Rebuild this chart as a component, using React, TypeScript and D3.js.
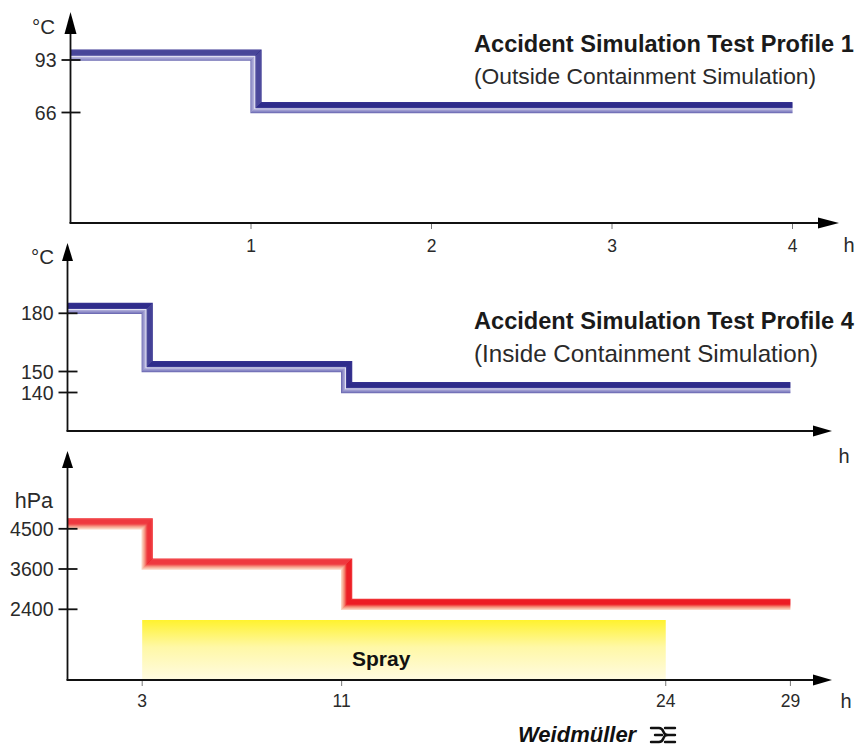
import React from "react";
import * as d3 from "d3";

// ---------- data ----------
const TOP_STEP_HOURS = [0, 1];
const TOP_STEP_TEMPS = [93, 66];
const TOP_END_HOUR = 4;
const TOP_Y_TICKS = [93, 66];
const TOP_X_TICKS = [1, 2, 3, 4];

const MID_STEP_HOURS = [0, 3, 11];
const MID_STEP_TEMPS = [180, 150, 140];
const MID_END_HOUR = 29;
const MID_Y_TICKS = [180, 150, 140];

const BOT_STEP_HOURS = [0, 3, 11];
const BOT_STEP_PRESS = [4500, 3600, 2400];
const BOT_END_HOUR = 29;
const BOT_Y_TICKS = [4500, 3600, 2400];
const BOT_X_TICKS = [3, 11, 24, 29];

const SPRAY_HOURS = [3, 24];
const SPRAY_LABEL = "Spray";

const TITLE_1 = "Accident Simulation Test Profile 1";
const SUBTITLE_1 = "(Outside Containment Simulation)";
const TITLE_4 = "Accident Simulation Test Profile 4";
const SUBTITLE_4 = "(Inside Containment Simulation)";
const UNIT_C = "°C";
const UNIT_HPA = "hPa";
const UNIT_H = "h";
const BRAND = "Weidmüller";

// band layer colours: index 0 = lower/left edge, last = upper/right edge
const BLUE_LAYERS = ["#6f6db4", "#8583c3", "#9896cd", "#aaa8d7", "#e2e2f2", "#3f3c96", "#2f2c8b", "#2f2c8b", "#2f2c8b", "#2f2c8b", "#34318f"];
const RED_LAYERS = ["#fbd3c2", "#f9b9a3", "#f69c86", "#f37c6a", "#f0514a", "#ee2a2e", "#ed1c24", "#ed1c24", "#ed1c24", "#ed1c24", "#ef2f33"];

const FONT = "Liberation Sans, Arial, Helvetica, sans-serif";
const TXT = "#2a2a2a";

// ---------- helpers ----------
function bandPath(
  x: (t: number) => number,
  y: (v: number) => number,
  hours: number[],
  vals: number[],
  end: number,
  d: number
) {
  const p = d3.path();
  p.moveTo(x(hours[0]), y(vals[0]) - d);
  for (let i = 1; i < hours.length; i++) {
    const xi = x(hours[i]) + d;
    p.lineTo(xi, y(vals[i - 1]) - d);
    p.lineTo(xi, y(vals[i]) - d);
  }
  p.lineTo(x(end), y(vals[vals.length - 1]) - d);
  return p.toString();
}

function Band({ x, y, hours, vals, end, colors }: any) {
  return (
    <g fill="none">
      {colors.map((c: string, d: number) => (
        <path key={d} d={bandPath(x, y, hours, vals, end, d)} stroke={c} strokeWidth={1.25} strokeLinejoin="miter" />
      ))}
    </g>
  );
}

function Axes({ ox, oy, yTip, xTip, yHead, xHead }: any) {
  return (
    <g>
      <line x1={ox} y1={oy} x2={ox} y2={yTip + yHead[0]} stroke="#111" strokeWidth={1.8} />
      <path d={`M${ox},${yTip} L${ox - yHead[1]},${yTip + yHead[0]} L${ox + yHead[1]},${yTip + yHead[0]} Z`} fill="#000" />
      <line x1={ox - 1} y1={oy} x2={xTip - xHead[0]} y2={oy} stroke="#111" strokeWidth={1.8} />
      <path d={`M${xTip},${oy} L${xTip - xHead[0]},${oy - xHead[1]} L${xTip - xHead[0]},${oy + xHead[1]} Z`} fill="#000" />
    </g>
  );
}

function YTicks({ ox, y, ticks }: any) {
  return (
    <g>
      {ticks.map((t: number) => (
        <g key={t}>
          <line x1={ox - 9} x2={ox + 10} y1={y(t)} y2={y(t)} stroke="#111" strokeWidth={1.8} />
          <text x={ox - 14} y={y(t)} dy="0.36em" textAnchor="end" fontSize={19.5} fill={TXT} fontFamily={FONT}>
            {String(t)}
          </text>
        </g>
      ))}
    </g>
  );
}

function XTicks({ oy, x, ticks, labelY }: any) {
  return (
    <g>
      {ticks.map((t: number) => (
        <g key={t}>
          <line x1={x(t)} x2={x(t)} y1={oy + 1} y2={oy + 6} stroke="#777" strokeWidth={1} />
          <text x={x(t)} y={labelY} textAnchor="middle" fontSize={17.5} fill={TXT} fontFamily={FONT}>
            {String(t)}
          </text>
        </g>
      ))}
    </g>
  );
}

export default function App() {
  // ---- top chart ----
  const topOx = 70.5;
  const topOy = 223;
  const xTop = d3.scaleLinear().domain([0, TOP_END_HOUR]).range([topOx, 792.5]);
  const yTop = d3.scaleLinear().domain([66, 93]).range([112.5, 60]);

  // ---- middle & bottom (hours 0..29) ----
  const ox = 67.5;
  const xHours = d3.scaleLinear().domain([0, 29]).range([67.4, 790.4]);
  const midOy = 431;
  const yMid = d3.scaleLinear().domain([140, 150, 180]).range([392.5, 371.5, 313.3]);
  const botOy = 680;
  const yBot = d3.scaleLinear().domain([2400, 3600, 4500]).range([609.3, 569, 528.8]);

  const sprayX0 = xHours(SPRAY_HOURS[0]);
  const sprayX1 = xHours(SPRAY_HOURS[1]);

  return (
    <svg
      width={866}
      height={747}
      viewBox="0 0 866 747"
      fontFamily={FONT}
      style={{ position: "absolute", left: 0, top: 0, background: "#fff", fontFamily: FONT }}
    >
      <defs>
        <linearGradient id="sprayGrad" x1="0" y1="0" x2="0" y2="1">
          <stop offset="0" stopColor="#fff22e" />
          <stop offset="0.45" stopColor="#fff8a6" />
          <stop offset="1" stopColor="#fffbe2" />
        </linearGradient>
      </defs>
      <rect x={0} y={0} width={866} height={747} fill="#fff" />

      {/* ===== top chart ===== */}
      <Band x={xTop} y={yTop} hours={TOP_STEP_HOURS} vals={TOP_STEP_TEMPS} end={TOP_END_HOUR} colors={BLUE_LAYERS} />
      <Axes ox={topOx} oy={topOy} yTip={12} xTip={839} yHead={[22, 6]} xHead={[21, 5.5]} />
      <YTicks ox={topOx} y={yTop} ticks={TOP_Y_TICKS} />
      <XTicks oy={topOy} x={xTop} ticks={TOP_X_TICKS} labelY={252} />
      <text x={55} y={34} textAnchor="end" fontSize={20.5} fill={TXT} fontFamily={FONT}>{UNIT_C}</text>
      <text x={849} y={252} textAnchor="middle" fontSize={20} fill={TXT} fontFamily={FONT}>{UNIT_H}</text>
      <text x={474} y={52} fontSize={23.6} fontWeight="bold" fill="#1a1a1a" fontFamily={FONT}>{TITLE_1}</text>
      <text x={474} y={84} fontSize={22.8} fill={TXT} fontFamily={FONT}>{SUBTITLE_1}</text>

      {/* ===== middle chart ===== */}
      <Band x={xHours} y={yMid} hours={MID_STEP_HOURS} vals={MID_STEP_TEMPS} end={MID_END_HOUR} colors={BLUE_LAYERS} />
      <Axes ox={ox} oy={midOy} yTip={243} xTip={832} yHead={[18, 5.5]} xHead={[19, 5.5]} />
      <YTicks ox={ox} y={yMid} ticks={MID_Y_TICKS} />
      <text x={54} y={264} textAnchor="end" fontSize={20.5} fill={TXT} fontFamily={FONT}>{UNIT_C}</text>
      <text x={844} y={463} textAnchor="middle" fontSize={20} fill={TXT} fontFamily={FONT}>{UNIT_H}</text>
      <text x={474} y={329} fontSize={23.6} fontWeight="bold" fill="#1a1a1a" fontFamily={FONT}>{TITLE_4}</text>
      <text x={474} y={362} fontSize={24.2} fill={TXT} fontFamily={FONT}>{SUBTITLE_4}</text>

      {/* ===== bottom chart ===== */}
      <rect x={sprayX0} y={620} width={sprayX1 - sprayX0} height={botOy - 620} fill="url(#sprayGrad)" />
      <text x={352} y={666} fontSize={21} fontWeight="bold" fill="#111" fontFamily={FONT}>{SPRAY_LABEL}</text>
      <Band x={xHours} y={yBot} hours={BOT_STEP_HOURS} vals={BOT_STEP_PRESS} end={BOT_END_HOUR} colors={RED_LAYERS} />
      <Axes ox={ox} oy={botOy} yTip={451} xTip={832} yHead={[17, 5.5]} xHead={[19, 5.5]} />
      <YTicks ox={ox} y={yBot} ticks={BOT_Y_TICKS} />
      <XTicks oy={botOy} x={xHours} ticks={BOT_X_TICKS} labelY={707} />
      <text x={53} y={508} textAnchor="end" fontSize={21.5} fill={TXT} fontFamily={FONT}>{UNIT_HPA}</text>
      <text x={846} y={708} textAnchor="middle" fontSize={20} fill={TXT} fontFamily={FONT}>{UNIT_H}</text>

      {/* ===== brand ===== */}
      <text x={518} y={742} fontSize={22} fontWeight={900} fontStyle="italic" fill="#111" fontFamily={FONT}>{BRAND}</text>
      <g transform="translate(650,726)" fill="none" stroke="#111" strokeWidth={2.4} strokeLinecap="round">
        <path d="M1,2 H9 C15,2 12,9 17,9 H25" />
        <path d="M1,16 H9 C15,16 12,9 17,9" />
        <path d="M5,9 H12" />
        <path d="M15,2 H25" />
        <path d="M15,16 H25" />
      </g>
    </svg>
  );
}
